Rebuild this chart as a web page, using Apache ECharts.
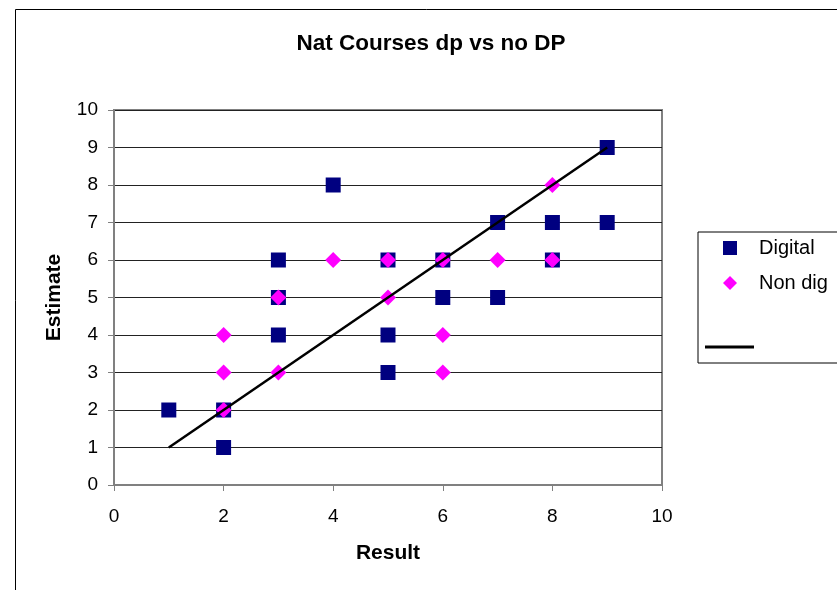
<!DOCTYPE html>
<html>
<head>
<meta charset="utf-8">
<script src="https://cdn.jsdelivr.net/npm/echarts@6/dist/echarts.min.js"></script>
<style>
html,body{margin:0;padding:0;background:#fff;}
#chart{width:837px;height:590px;}
</style>
</head>
<body>
<div id="chart"></div>
<script>
var titleText = 'Nat Courses dp vs no DP';
var xAxisName = 'Result';
var yAxisName = 'Estimate';
var seriesNames = ['Digital', 'Non dig', 'Line'];
var digitalResult   = [1, 2, 2, 3, 3, 3, 4, 5, 5, 5, 6, 6, 7, 7, 8, 8, 9, 9];
var digitalEstimate = [2, 2, 1, 6, 5, 4, 8, 6, 4, 3, 6, 5, 7, 5, 7, 6, 9, 7];
var nonDigResult    = [2, 2, 2, 3, 3, 4, 5, 5, 6, 6, 6, 7, 8, 8];
var nonDigEstimate  = [4, 3, 2, 5, 3, 6, 6, 5, 6, 4, 3, 6, 8, 6];
var lineResult      = [1, 9];
var lineEstimate    = [1, 9];

function pairs(xs, ys) { return xs.map(function (x, i) { return [x, ys[i]]; }); }

var FONT = 'Liberation Sans, Arial, sans-serif';
var chart = echarts.init(document.getElementById('chart'), null, {renderer: 'canvas'});
chart.setOption({
  backgroundColor: '#ffffff',
  animation: false,
  graphic: [{
    type: 'rect', left: 13, top: 7, silent: true, z: -10,
    shape: {x: 0, y: 0, width: 1000, height: 1000},
    style: {fill: 'none', stroke: '#000', lineWidth: 1}
  }],
  title: {
    text: titleText, left: 426, top: 27, textAlign: 'center',
    textStyle: {fontFamily: FONT, fontWeight: 'bold', fontSize: 22.5, color: '#000'}
  },
  grid: {left: 114, top: 110, right: 175, bottom: 105, show: true,
         borderColor: '#808080', borderWidth: 2, backgroundColor: '#fff', containLabel: false},
  xAxis: {
    type: 'value', min: 0, max: 10, interval: 2,
    name: xAxisName, nameLocation: 'middle', nameGap: 58,
    nameTextStyle: {fontFamily: FONT, fontWeight: 'bold', fontSize: 21, color: '#000'},
    axisLine: {show: true, onZero: false, lineStyle: {color: '#808080', width: 2}},
    axisTick: {show: true, inside: false, length: 6, lineStyle: {color: '#808080', width: 1}},
    axisLabel: {fontFamily: FONT, fontSize: 19, color: '#000', margin: 22},
    splitLine: {show: false}
  },
  yAxis: {
    type: 'value', min: 0, max: 10, interval: 1,
    name: yAxisName, nameLocation: 'middle', nameGap: 49, nameRotate: 90,
    nameTextStyle: {fontFamily: FONT, fontWeight: 'bold', fontSize: 21, color: '#000'},
    axisLine: {show: true, onZero: false, lineStyle: {color: '#808080', width: 2}},
    axisTick: {show: true, inside: false, length: 6, lineStyle: {color: '#808080', width: 1}},
    axisLabel: {fontFamily: FONT, fontSize: 19, color: '#000', margin: 16},
    splitLine: {show: true, lineStyle: {color: '#222', width: 1}}
  },
  legend: [{
    orient: 'vertical', left: 698, top: 232,
    padding: [6, 200, 70, 25],
    borderColor: '#000', borderWidth: 1, backgroundColor: '#fff',
    itemWidth: 14, itemHeight: 14, itemGap: 15,
    textStyle: {fontFamily: FONT, fontSize: 20, color: '#000', lineHeight: 20, padding: [0, 0, 0, 17]},
    data: [
      {name: seriesNames[0], icon: 'rect'},
      {name: seriesNames[1], icon: 'diamond'}
    ]
  }, {
    orient: 'vertical', left: 705, top: 345.5, padding: 0,
    itemWidth: 49, itemHeight: 3,
    formatter: function () { return ''; },
    textStyle: {fontFamily: FONT, fontSize: 1, color: '#000'},
    itemStyle: {color: '#000'},
    data: [{name: seriesNames[2], icon: 'rect'}]
  }],
  series: [{
    name: seriesNames[0], type: 'scatter', symbol: 'rect', symbolSize: 15,
    itemStyle: {color: '#000080', opacity: 1}, z: 2,
    data: pairs(digitalResult, digitalEstimate)
  }, {
    name: seriesNames[1], type: 'scatter', symbol: 'diamond', symbolSize: 16,
    itemStyle: {color: '#FF00FF', opacity: 1}, z: 3,
    data: pairs(nonDigResult, nonDigEstimate)
  }, {
    name: seriesNames[2], type: 'line', symbol: 'none', z: 4,
    lineStyle: {color: '#000', width: 2.5}, itemStyle: {color: '#000'},
    data: pairs(lineResult, lineEstimate)
  }]
});
</script>
</body>
</html>
